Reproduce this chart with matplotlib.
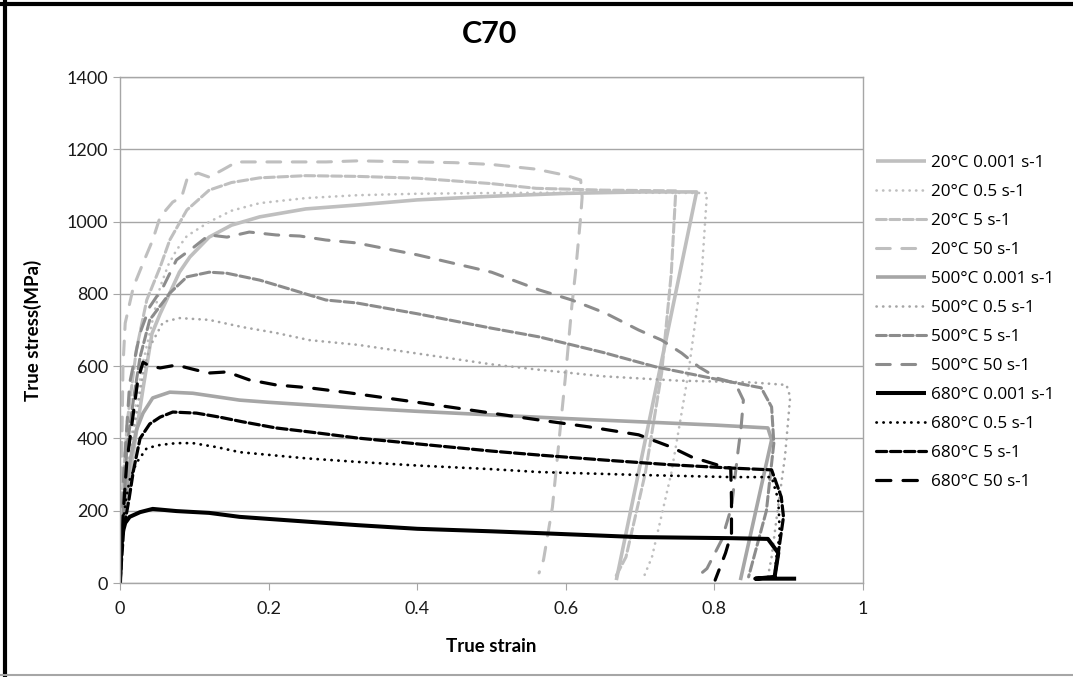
import numpy as np
import matplotlib
matplotlib.use("Agg")
from matplotlib import pyplot as plt
from matplotlib.lines import Line2D

# ---- data (true strain, true stress MPa) ----
labels = ["20°C 0.001 s-1", "20°C 0.5 s-1", "20°C 5 s-1", "20°C 50 s-1",
          "500°C 0.001 s-1", "500°C 0.5 s-1", "500°C 5 s-1", "500°C 50 s-1",
          "680°C 0.001 s-1", "680°C 0.5 s-1", "680°C 5 s-1", "680°C 50 s-1"]

e20_0001 = [0, 0.004, 0.013, 0.022, 0.031, 0.043, 0.054, 0.067, 0.08, 0.094, 0.12, 0.15, 0.188, 0.25, 0.32, 0.4, 0.5, 0.6, 0.7, 0.776, 0.668]
s20_0001 = [0, 174, 295, 417, 538, 690, 745, 802, 860, 902, 957, 990, 1013, 1035, 1046, 1060, 1070, 1078, 1082, 1082, 8]

e20_05 = [0, 0.003, 0.012, 0.022, 0.031, 0.04, 0.054, 0.065, 0.076, 0.09, 0.12, 0.15, 0.188, 0.25, 0.32, 0.4, 0.5, 0.6, 0.7, 0.79, 0.783, 0.765, 0.742, 0.716, 0.705]
s20_05 = [0, 180, 350, 506, 610, 692, 819, 880, 921, 960, 999, 1030, 1051, 1065, 1073, 1077, 1079, 1080, 1080, 1079, 858, 581, 304, 72, 17]

e20_5 = [0, 0.003, 0.01, 0.022, 0.036, 0.054, 0.067, 0.09, 0.12, 0.15, 0.188, 0.25, 0.32, 0.4, 0.5, 0.56, 0.65, 0.748, 0.742, 0.729, 0.707, 0.681, 0.667]
s20_5 = [0, 250, 450, 645, 783, 874, 949, 1032, 1087, 1108, 1121, 1127, 1125, 1120, 1105, 1092, 1087, 1085, 858, 581, 304, 72, 17]

e20_50 = [0, 0.004, 0.007, 0.018, 0.031, 0.044, 0.054, 0.071, 0.083, 0.091, 0.105, 0.12, 0.138, 0.157, 0.2, 0.232, 0.277, 0.32, 0.4, 0.45, 0.5, 0.56, 0.6, 0.62, 0.622, 0.62, 0.613, 0.608, 0.6, 0.591, 0.582, 0.57, 0.564]
s20_50 = [0, 600, 719, 819, 885, 949, 1013, 1054, 1068, 1123, 1134, 1123, 1143, 1165, 1165, 1165, 1165, 1168, 1165, 1163, 1158, 1145, 1128, 1115, 1068, 1013, 858, 764, 581, 396, 210, 64, 28]

e500_0001 = [0, 0.004, 0.013, 0.022, 0.031, 0.044, 0.067, 0.098, 0.161, 0.2, 0.32, 0.4, 0.5, 0.6, 0.7, 0.8, 0.872, 0.877, 0.835]
s500_0001 = [0, 183, 332, 423, 470, 512, 528, 525, 506, 500, 484, 475, 465, 455, 446, 437, 429, 396, 8]

e500_05 = [0, 0.005, 0.018, 0.031, 0.04, 0.058, 0.08, 0.12, 0.165, 0.21, 0.255, 0.32, 0.4, 0.5, 0.564, 0.65, 0.75, 0.85, 0.897, 0.902, 0.895, 0.885, 0.877, 0.872]
s500_05 = [0, 200, 415, 581, 653, 722, 733, 728, 708, 692, 672, 659, 635, 605, 590, 572, 560, 555, 548, 515, 350, 200, 72, 17]

e500_5 = [0, 0.009, 0.018, 0.027, 0.04, 0.067, 0.09, 0.12, 0.144, 0.188, 0.232, 0.277, 0.318, 0.4, 0.5, 0.564, 0.65, 0.721, 0.8, 0.863, 0.877, 0.88, 0.87, 0.846]
s500_5 = [0, 368, 506, 625, 728, 802, 847, 860, 857, 838, 811, 783, 775, 745, 705, 681, 638, 598, 565, 540, 487, 387, 200, 17]

e500_50 = [0, 0.005, 0.013, 0.027, 0.04, 0.058, 0.076, 0.098, 0.12, 0.144, 0.174, 0.21, 0.242, 0.277, 0.318, 0.4, 0.5, 0.564, 0.608, 0.653, 0.698, 0.729, 0.756, 0.779, 0.805, 0.828, 0.839, 0.836, 0.832, 0.823, 0.81, 0.79, 0.775]
s500_50 = [0, 300, 553, 692, 764, 819, 894, 927, 963, 957, 971, 963, 960, 949, 941, 908, 860, 811, 783, 747, 700, 672, 636, 598, 566, 553, 506, 432, 368, 210, 120, 40, 14]

e680_0001 = [0, 0.002, 0.007, 0.013, 0.027, 0.044, 0.076, 0.12, 0.161, 0.25, 0.32, 0.4, 0.5, 0.564, 0.698, 0.823, 0.872, 0.886, 0.881, 0.855, 0.91]
s680_0001 = [0, 127, 166, 183, 196, 205, 199, 194, 183, 170, 160, 150, 143, 138, 127, 124, 122, 83, 17, 12, 12]

e680_05 = [0, 0.003, 0.008, 0.013, 0.022, 0.036, 0.054, 0.076, 0.098, 0.13, 0.161, 0.25, 0.32, 0.4, 0.5, 0.564, 0.698, 0.823, 0.877, 0.886, 0.888, 0.883, 0.881]
s680_05 = [0, 150, 230, 285, 332, 373, 382, 387, 387, 376, 362, 345, 335, 325, 315, 307, 299, 293, 293, 230, 138, 64, 17]

e680_5 = [0, 0.005, 0.012, 0.018, 0.027, 0.04, 0.054, 0.071, 0.103, 0.134, 0.165, 0.21, 0.255, 0.32, 0.4, 0.5, 0.564, 0.653, 0.742, 0.823, 0.877, 0.89, 0.893, 0.886, 0.881]
s680_5 = [0, 150, 230, 310, 400, 440, 459, 473, 470, 459, 446, 429, 418, 401, 385, 365, 354, 340, 327, 318, 313, 238, 183, 83, 17]

e680_50 = [0, 0.004, 0.009, 0.018, 0.024, 0.031, 0.04, 0.054, 0.076, 0.103, 0.12, 0.144, 0.174, 0.21, 0.255, 0.309, 0.4, 0.5, 0.564, 0.631, 0.698, 0.742, 0.769, 0.805, 0.822, 0.823, 0.823, 0.815, 0.801]
s680_50 = [0, 183, 332, 470, 562, 611, 600, 595, 603, 589, 581, 584, 562, 548, 540, 526, 500, 470, 451, 432, 410, 376, 349, 326, 318, 230, 138, 83, 8]

strains = [e20_0001, e20_05, e20_5, e20_50, e500_0001, e500_05, e500_5, e500_50,
           e680_0001, e680_05, e680_5, e680_50]
stresses = [s20_0001, s20_05, s20_5, s20_50, s500_0001, s500_05, s500_5, s500_50,
            s680_0001, s680_05, s680_5, s680_50]

# ---- styles ----
light, mid, mid2, blk = "#bfbfbf", "#a6a6a6", "#8c8c8c", "#000000"
colors = [light, light, light, light, mid, mid, mid2, mid2, blk, blk, blk, blk]
solid = "-"
dot = (0, (0.1, 2.4))
sdash = (0, (3.2, 1.2))
ldash = (0, (4.5, 3.8))
styles = [solid, dot, sdash, ldash] * 3
widths = [2.6, 1.9, 2.2, 2.2] * 2 + [2.9, 2.0, 2.3, 2.3]

fig = plt.figure(figsize=(10.73, 6.77), dpi=100)
ax = fig.add_axes([120 / 1073, 94 / 677, 743 / 1073, 506 / 677])

for e, s, c, ls, lw, lab in zip(strains, stresses, colors, styles, widths, labels):
    ax.plot(e, s, color=c, ls=ls, lw=lw, label=lab,
            dash_capstyle="round", solid_capstyle="butt")

ax.set_xlim(0, 1)
ax.set_ylim(0, 1400)
ax.set_xticks(np.arange(0, 1.01, 0.2))
ax.set_xticklabels(["0", "0.2", "0.4", "0.6", "0.8", "1"])
ax.set_yticks(np.arange(0, 1401, 200))
ax.yaxis.grid(True, color="#a6a6a6", lw=1)
ax.set_axisbelow(True)
for sp in ax.spines.values():
    sp.set_color("#a6a6a6")
    sp.set_linewidth(1)
ax.tick_params(direction="out", length=5, color="#a6a6a6", labelsize=13,
               labelcolor="#1a1a1a")
for t in ax.get_xticklabels() + ax.get_yticklabels():
    t.set_fontfamily("Lato")
ax.tick_params(axis="x", pad=8)

ax.set_xlabel("True strain", fontsize=13.5, fontweight="bold", family="Lato", labelpad=15)
ax.set_ylabel("True stress(MPa)", fontsize=13.5, fontweight="bold", family="Lato", labelpad=18)
fig.text(490 / 1073, 1 - 34 / 677, "C70", fontsize=22, fontweight="bold",
         family="Lato", ha="center", va="center")

ax.legend(loc="upper left", bbox_to_anchor=(876 / 1073, 1 - 155 / 677),
          bbox_transform=fig.transFigure, frameon=False,
          prop={"family": "Open Sans", "size": 12.3},
          handlelength=2.9, handletextpad=0.3, labelspacing=0.76,
          borderpad=0, borderaxespad=0)

# outer chart frame
fig.add_artist(Line2D([0, 1], [1 - 4 / 677, 1 - 4 / 677], color="black", lw=3))
fig.add_artist(Line2D([5 / 1073, 5 / 1073], [0, 1], color="black", lw=3))
fig.add_artist(Line2D([0, 1], [2 / 677, 2 / 677], color="#a6a6a6", lw=1.5))

fig.savefig("out.png", dpi=100)
